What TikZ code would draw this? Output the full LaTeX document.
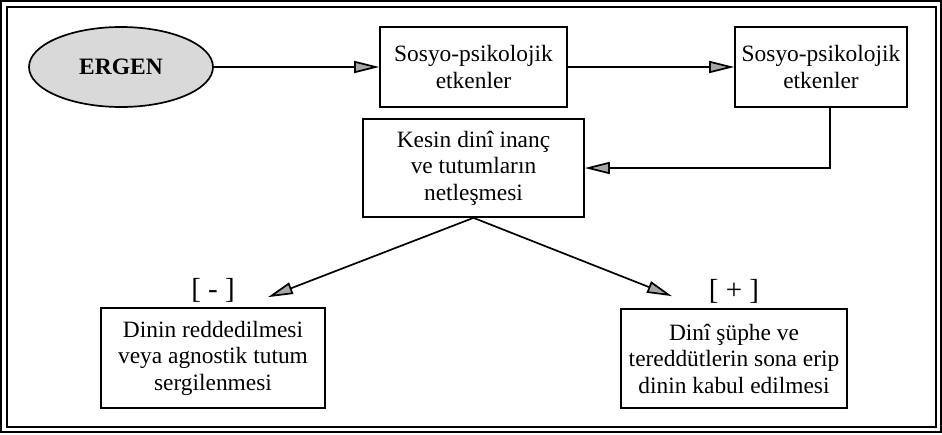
\documentclass[tikz,border=0pt]{standalone}
\usepackage{fontspec}
\setmainfont{Liberation Serif}
\usetikzlibrary{arrows.meta,shapes.geometric,positioning}

\tikzset{
  etken/.style={draw, line width=1.7pt, align=center, inner sep=0pt,
                font=\fontsize{23.4}{26.5}\selectfont},
  ok/.style={line width=1.7pt, -{Triangle[length=25pt,width=12pt,fill=gray!70]}},
  isaret/.style={font=\fontsize{29}{30}\selectfont, inner sep=1pt},
}

\begin{document}
\begin{tikzpicture}[x=1pt,y=-1pt]
  \useasboundingbox (0,0) rectangle (942,434);
  % frame
  \draw[line width=1.6pt] (1,1) rectangle (941,432);
  \draw[line width=1.6pt] (7,7) rectangle (936,427);

  %% top row
  \node[draw, ellipse, line width=1.7pt, fill=gray!30, minimum width=184pt, minimum height=80pt,
        font=\fontsize{23.5}{27}\selectfont\bfseries] (ergen) at (121,67) {ERGEN};
  \node[etken, minimum width=187pt, minimum height=80pt] (etken1) at (473.5,67) {Sosyo-psikolojik\\etkenler};
  \node[etken, minimum width=172pt, minimum height=80pt] (etken2) at (821,67) {Sosyo-psikolojik\\etkenler};

  %% middle
  \node[etken, minimum width=221pt, minimum height=98pt] (inanc) at (473.5,168) {Kesin dinî inanç\\ve tutumların\\netleşmesi};

  %% bottom row
  \node[etken, minimum width=224pt, minimum height=100pt] (red) at (213,358) {Dinin reddedilmesi\\veya agnostik tutum\\sergilenmesi};
  \node[etken, minimum width=226pt, minimum height=99pt] (kabul) at (734,358.5) {Dinî şüphe ve\\tereddütlerin sona erip\\dinin kabul edilmesi};
  \node[isaret, above=4pt of red] (eksi) {[ - ]};
  \node[isaret, above=4pt of kabul] (arti) {[ + ]};

  %% arrows
  \draw[ok] (ergen) -- (etken1);
  \draw[ok] (etken1) -- (etken2);
  \draw[ok] ([xshift=9pt]etken2.south) |- (inanc.east);
  \draw[ok] (inanc.south) -- ([xshift=55pt,yshift=10pt]red.north);
  \draw[ok] (inanc.south) -- ([xshift=-62pt,yshift=12pt]kabul.north);

\end{tikzpicture}
\end{document}
